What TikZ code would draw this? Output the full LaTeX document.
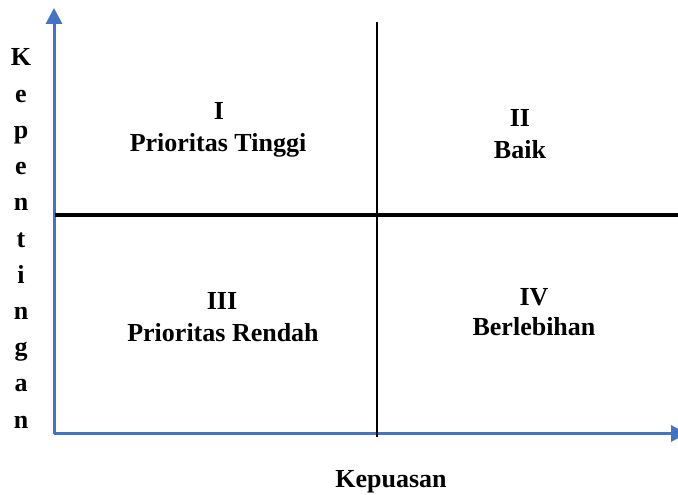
\documentclass[tikz,border=0pt]{standalone}
\usepackage{fontspec}
\setmainfont{Liberation Serif}
\usetikzlibrary{arrows.meta}
\definecolor{axisblue}{RGB}{68,114,196}
\begin{document}
\begin{tikzpicture}[x=1pt,y=-1pt,
  axisline/.style={axisblue, line width=3pt, -{Triangle[length=16pt,width=16pt]}},
  divider/.style={black},
  label/.style={font=\fontsize{26}{31}\selectfont\bfseries, inner sep=0pt, anchor=base}]
  \useasboundingbox (0,0) rectangle (678,495);
  \clip (0,0) rectangle (678,495);

  % axes
  \coordinate (origin) at (54,433.5);
  \coordinate (ytop) at (54,8);
  \coordinate (xend) at (687,433.5);
  \draw[axisline] (origin) -- (ytop);
  \draw[axisline] (origin) -- (xend);

  % quadrant dividers
  \coordinate (hleft) at (55,215);
  \coordinate (hright) at (678,215);
  \coordinate (vtop) at (377,22);
  \coordinate (vbottom) at (377,437);
  \draw[divider, line width=4pt] (hleft) -- (hright);
  \draw[divider, line width=2pt] (vtop) -- (vbottom);

  % quadrant labels
  \node[label] (q1num) at (219,119) {I};
  \node[label] (q1txt) at (218,151) {Prioritas Tinggi};
  \node[label] (q2num) at (520,127) {II};
  \node[label] (q2txt) at (520,158) {Baik};
  \node[label] (q3num) at (222,309) {III};
  \node[label] (q3txt) at (223,341) {Prioritas Rendah};
  \node[label] (q4num) at (534,305) {IV};
  \node[label] (q4txt) at (534,335) {Berlebihan};

  % axis titles
  \node[label] (xtitle) at (391,487) {Kepuasan};
  \foreach \ch [count=\i from 0] in {K,e,p,e,n,t,i,n,g,a,n}
    \node[label] (ychar\i) at (21,66+36.2*\i) {\ch};
\end{tikzpicture}
\end{document}
